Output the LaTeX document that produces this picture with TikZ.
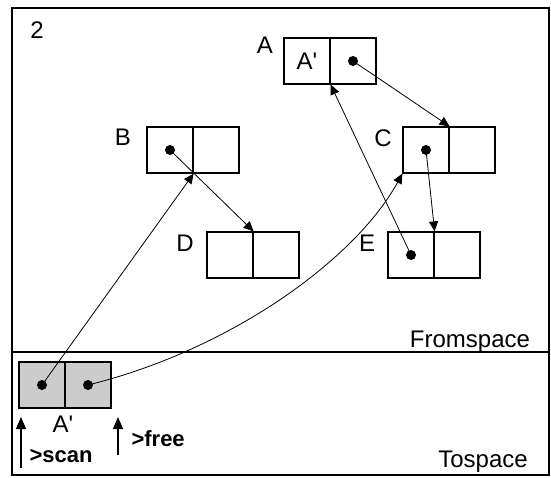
\documentclass[tikz,border=0pt]{standalone}
\usepackage{fontspec}
\setmainfont{Liberation Sans}
\usetikzlibrary{arrows.meta}

\begin{document}
\begin{tikzpicture}[x=1pt,y=-1pt]

\tikzset{cell/.style = {shape=rectangle,draw,line width=1.2pt,minimum width=46pt,minimum height=46pt,inner sep=0pt,font=\fontsize{24}{26}\selectfont}}
\tikzset{ptr/.style = {-{Triangle[length=10pt,width=9pt]},line width=0.8pt}}
\tikzset{tag/.style = {font=\fontsize{24}{26}\selectfont}}
\tikzset{marker/.style = {-{Triangle[length=12pt,width=10pt]},line width=1.2pt}}

\useasboundingbox (0,0) rectangle (551,478);
% spaces
\draw[line width=1.2pt] (12,8) rectangle (549,475);
\draw[line width=1.2pt] (12,352) -- (549,352);
\node[tag] (num) at (37,30) {2};
\node[tag, anchor=base] (from) at (470,347) {Fromspace};
\node[tag, anchor=base] (to) at (483,467) {Tospace};

% records
\node[cell] (A1) at (307,61) {A\textquotesingle};
\node[cell] (A2) at (353,61) {};
\node[cell] (B1) at (170,150) {};
\node[cell] (B2) at (216,150) {};
\node[cell] (C1) at (426,150) {};
\node[cell] (C2) at (472,150) {};
\node[cell] (D1) at (230,255) {};
\node[cell] (D2) at (276,255) {};
\node[cell] (E1) at (411,255) {};
\node[cell] (E2) at (457,255) {};
\node[cell, fill=gray!40] (T1) at (42,385) {};
\node[cell, fill=gray!40] (T2) at (88,385) {};

% names
\node[tag] (nA) at (265,45) {A};
\node[tag] (nB) at (123,137) {B};
\node[tag] (nC) at (383,138) {C};
\node[tag] (nD) at (185,243) {D};
\node[tag] (nE) at (367,243) {E};
\node[tag] (nT) at (63,424) {A\textquotesingle};

%pointers
\foreach \c in {A2,B1,C1,E1,T1,T2}
  \fill (\c.center) circle (5);
\draw[ptr] (B1.center) -- (D1.north east);
\draw[ptr] (A2.center) -- (C1.north east);
\draw[ptr] (C1.center) -- (E1.north east);
\draw[ptr] (E1.center) -- (A1.south east);
\draw[ptr] (T1.center) -- (B1.south east);
\draw[ptr] (T2.center) .. controls (230,350) and (355,260) .. (C1.south west);

% scan and free
\coordinate (scan0) at (21,468);
\coordinate (scan1) at (21,417);
\coordinate (free0) at (118,455);
\coordinate (free1) at (118,417);
\draw[marker] (scan0) -- (scan1);
\draw[marker] (free0) -- (free1);
\node[anchor=base west, font=\fontsize{22}{24}\selectfont\bfseries] (scan) at (26,462) {>scan};
\node[anchor=base west, font=\fontsize{22}{24}\selectfont\bfseries] (free) at (128,446) {>free};

\end{tikzpicture}
\end{document}
